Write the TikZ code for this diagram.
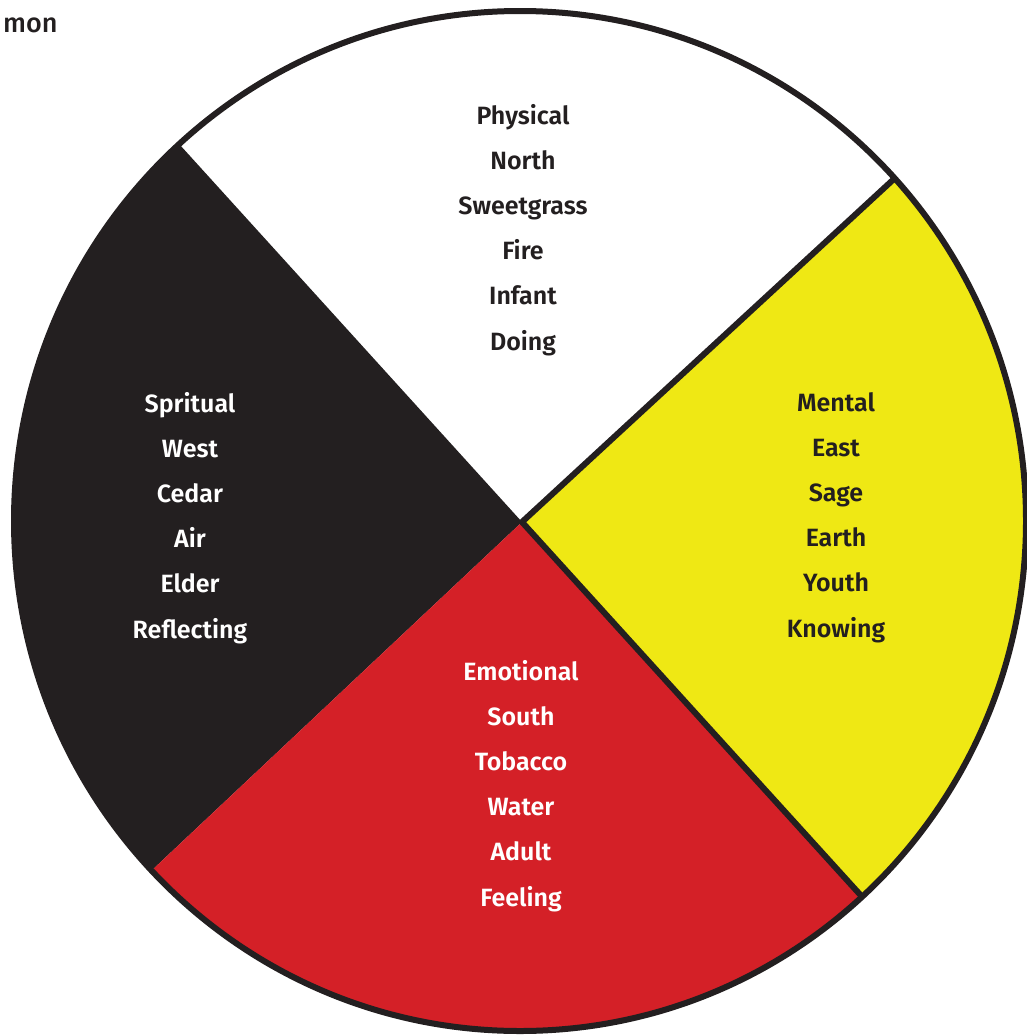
\documentclass[tikz,border=0pt]{standalone}
\usepackage{fontspec}
\usetikzlibrary{calc}
\setmainfont{Fira Sans}
\newfontfamily\wheelfont{Fira Sans SemiBold}
\newfontfamily\cornerfont{Fira Sans Medium}
\definecolor{wheelblack}{HTML}{231F20}
\definecolor{wheelred}{HTML}{D42027}
\definecolor{wheelyellow}{HTML}{EFE814}
\begin{document}
\begin{tikzpicture}[x=1pt,y=-1pt,
  lab/.style={font=\wheelfont\fontsize{25}{27}\selectfont, anchor=base, inner sep=0pt},
  rim/.style={draw=wheelblack, line width=6pt},
  divider/.style={draw=wheelblack, line width=6pt}]
\useasboundingbox (0,0) rectangle (1026,1036);

% wheel geometry
\coordinate (c)  at (522,522);
\coordinate (nw) at (180,145);
\coordinate (ne) at (895,178);
\coordinate (sw) at (150,872);
\coordinate (se) at (865,900);

% quadrant fills and dividers, clipped to the wheel
\begin{scope}
  \clip (520,521) ellipse [x radius=506, y radius=510];
  \fill[white] (0,0) rectangle (1100,1100);
  \fill[wheelblack] (c) -- ($(c)!1.5!(nw)$) -- (-300,522) -- ($(c)!1.5!(sw)$) -- cycle;
  \fill[wheelred] (c) -- ($(c)!1.5!(sw)$) -- (522,1400) -- ($(c)!1.5!(se)$) -- cycle;
  \fill[wheelyellow] (c) -- ($(c)!1.5!(ne)$) -- (1400,522) -- ($(c)!1.5!(se)$) -- cycle;
  % dividers bounding the yellow quadrant
  \draw[divider] ($(c)!1.1!(ne)$) -- (c) -- ($(c)!1.1!(se)$);
\end{scope}

% outer rim
\draw[rim] (520,521) ellipse [x radius=506, y radius=510];

% quadrant labels
\foreach \t [count=\i] in {Physical,North,Sweetgrass,Fire,Infant,Doing}
  \node[lab, text=wheelblack] (north\i) at (523,{124+45.2*(\i-1)}) {\t};
\foreach \t [count=\i] in {Mental,East,Sage,Earth,Youth,Knowing}
  \node[lab, text=wheelblack] (east\i) at (836,{411+45.2*(\i-1)}) {\t};
\foreach \t [count=\i] in {Spritual,West,Cedar,Air,Elder,Reflecting}
  \node[lab, text=white] (west\i) at (190,{412+45.2*(\i-1)}) {\t};
\foreach \t [count=\i] in {Emotional,South,Tobacco,Water,Adult,Feeling}
  \node[lab, text=white] (south\i) at (521,{680+45.2*(\i-1)}) {\t};

% corner fragment
\node[font=\cornerfont\fontsize{27}{29}\selectfont, text=wheelblack, anchor=base west, inner sep=0pt] (corner) at (3,32) {mon};
\end{tikzpicture}
\end{document}
